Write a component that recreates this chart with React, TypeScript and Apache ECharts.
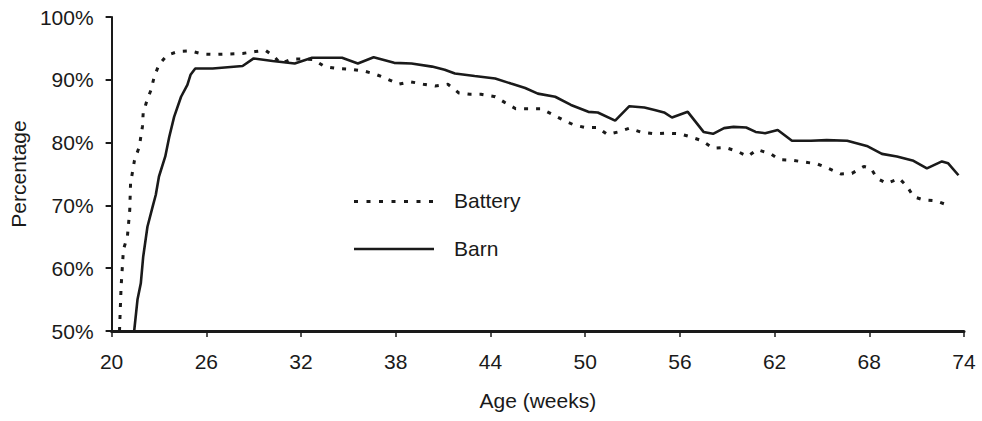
import React, { useEffect, useRef } from "react";
import * as echarts from "echarts";

const batteryWeeks = [20.5, 20.6, 20.75, 21.0, 21.15, 21.2, 21.45, 21.75, 21.95, 22.0, 22.25, 22.5, 22.7, 23.0, 23.5, 24.2, 25.0, 25.75, 26.6, 27.4, 28.3, 29.1, 29.75, 30.3, 30.7, 31.4, 32.3, 32.8, 33.5, 34.3, 35.1, 36.0, 36.7, 37.4, 38.2, 38.9, 39.75, 40.5, 41.3, 42.0, 42.7, 43.4, 44.3, 44.9, 45.6, 46.4, 47.2, 48.0, 48.6, 49.3, 50.0, 50.8, 51.4, 52.1, 52.8, 53.5, 54.4, 55.2, 56.0, 56.7, 57.4, 58.1, 58.9, 59.65, 60.3, 60.9, 61.75, 62.3, 63.1, 63.9, 64.7, 65.4, 66.2, 66.9, 67.65, 68.1, 68.5, 69.1, 69.9, 70.4, 70.8, 71.4, 72.2, 72.9];
const batteryPct = [50, 57, 63, 65, 69.3, 73.5, 77.2, 79.3, 82.5, 84.7, 86.8, 88.4, 90.5, 92.4, 93.9, 94.5, 94.6, 94.1, 94.05, 94.1, 94.2, 94.5, 94.7, 93.7, 92.6, 93.3, 93.3, 93.2, 92.1, 91.8, 91.7, 91.4, 90.9, 90.2, 89.3, 89.7, 89.3, 89.0, 89.3, 87.9, 87.7, 87.7, 87.3, 86.4, 85.4, 85.4, 85.4, 84.4, 83.6, 82.8, 82.4, 82.4, 81.3, 81.7, 82.3, 81.7, 81.4, 81.5, 81.4, 80.9, 80.3, 79.1, 79.2, 78.6, 77.8, 78.9, 78.2, 77.3, 77.2, 76.9, 76.6, 75.9, 75.0, 75.1, 76.2, 75.9, 74.3, 73.5, 74.3, 73.0, 71.4, 70.9, 70.75, 70.1];

const barnWeeks = [21.43, 21.64, 21.85, 22.0, 22.27, 22.6, 22.8, 23.0, 23.4, 23.65, 23.96, 24.4, 24.8, 25.0, 25.3, 26.4, 28.3, 29.0, 30.2, 31.6, 32.7, 34.6, 35.6, 36.6, 37.9, 39.0, 40.3, 41.1, 41.75, 43.0, 44.3, 45.3, 46.2, 47.0, 48.1, 49.1, 50.2, 50.8, 51.9, 52.8, 53.75, 54.4, 55.0, 55.5, 56.5, 57.0, 57.5, 58.1, 58.8, 59.4, 60.2, 60.8, 61.4, 62.2, 63.1, 64.3, 65.3, 66.6, 67.9, 68.8, 69.75, 70.8, 71.65, 72.6, 73.0, 73.65];
const barnPct = [50, 55, 57.6, 61.8, 66.6, 69.8, 71.7, 74.6, 77.8, 80.9, 84.1, 87.3, 89.2, 90.8, 91.8, 91.8, 92.2, 93.4, 93.0, 92.6, 93.5, 93.5, 92.6, 93.6, 92.7, 92.6, 92.1, 91.6, 91.0, 90.6, 90.2, 89.4, 88.7, 87.8, 87.3, 86.0, 84.9, 84.8, 83.5, 85.8, 85.6, 85.2, 84.8, 84.0, 84.9, 83.3, 81.7, 81.4, 82.3, 82.5, 82.4, 81.7, 81.5, 82.0, 80.3, 80.3, 80.4, 80.3, 79.4, 78.2, 77.8, 77.1, 75.9, 77.0, 76.7, 74.8];

const seriesNames = ["Battery", "Barn"];
const xTitle = "Age (weeks)";
const yTitle = "Percentage";

const FONT = "'Liberation Sans', Arial, Helvetica, sans-serif";
const FS = 21;
const INK = "#1a1a1a";

export default function App() {
  const ref = useRef<HTMLDivElement>(null);
  useEffect(() => {
    if (!ref.current) return;
    const chart = echarts.init(ref.current, undefined, { renderer: "svg" });
    const zip = (xs: number[], ys: number[]) => xs.map((x, i) => [x, ys[i]]);
    chart.setOption({
      animation: false,
      backgroundColor: "#ffffff",
      grid: { left: 109, right: 18, top: 17, bottom: 90, containLabel: false },
      xAxis: {
        type: "value",
        min: 20,
        max: 74,
        interval: 6,
        name: xTitle,
        nameLocation: "middle",
        nameGap: 59,
        nameTextStyle: { fontFamily: FONT, fontSize: FS, color: INK },
        axisLine: { show: true, lineStyle: { color: INK, width: 3 } },
        axisTick: { show: true, length: 6, lineStyle: { color: INK, width: 1.5 } },
        axisLabel: { fontFamily: FONT, fontSize: FS, color: INK, margin: 20 },
        splitLine: { show: false },
      },
      yAxis: {
        type: "value",
        min: 50,
        max: 100,
        interval: 10,
        name: yTitle,
        nameLocation: "middle",
        nameGap: 76,
        nameTextStyle: { fontFamily: FONT, fontSize: FS, color: INK },
        axisLine: { show: true, lineStyle: { color: INK, width: 2 } },
        axisTick: { show: true, length: 6, lineStyle: { color: INK, width: 2 } },
        axisLabel: { fontFamily: FONT, fontSize: FS, color: INK, margin: 18, formatter: "{value}%" },
        splitLine: { show: false },
      },
      series: [
        {
          name: seriesNames[0],
          type: "line",
          data: zip(batteryWeeks, batteryPct),
          showSymbol: false,
          symbol: "none",
          lineStyle: { color: INK, width: 3, type: [4, 8] },
          z: 3,
        },
        {
          name: seriesNames[1],
          type: "line",
          data: zip(barnWeeks, barnPct),
          showSymbol: false,
          symbol: "none",
          lineStyle: { color: INK, width: 2.6, type: "solid" },
          z: 4,
        },
      ],
      graphic: [
        {
          type: "line",
          shape: { x1: 354, y1: 201.5, x2: 434, y2: 201.5 },
          style: { stroke: INK, lineWidth: 3, lineDash: [4, 8.5] },
        },
        {
          type: "text",
          x: 454,
          y: 200,
          style: { text: seriesNames[0], font: `${FS}px ${FONT}`, fill: INK, verticalAlign: "middle" },
        },
        {
          type: "line",
          shape: { x1: 354, y1: 249, x2: 434, y2: 249 },
          style: { stroke: INK, lineWidth: 2.6 },
        },
        {
          type: "text",
          x: 454,
          y: 248,
          style: { text: seriesNames[1], font: `${FS}px ${FONT}`, fill: INK, verticalAlign: "middle" },
        },
      ],
    });
    return () => chart.dispose();
  }, []);
  return (
    <div
      ref={ref}
      style={{ position: "fixed", left: 0, top: 0, width: 982, height: 421, background: "#fff" }}
    />
  );
}
